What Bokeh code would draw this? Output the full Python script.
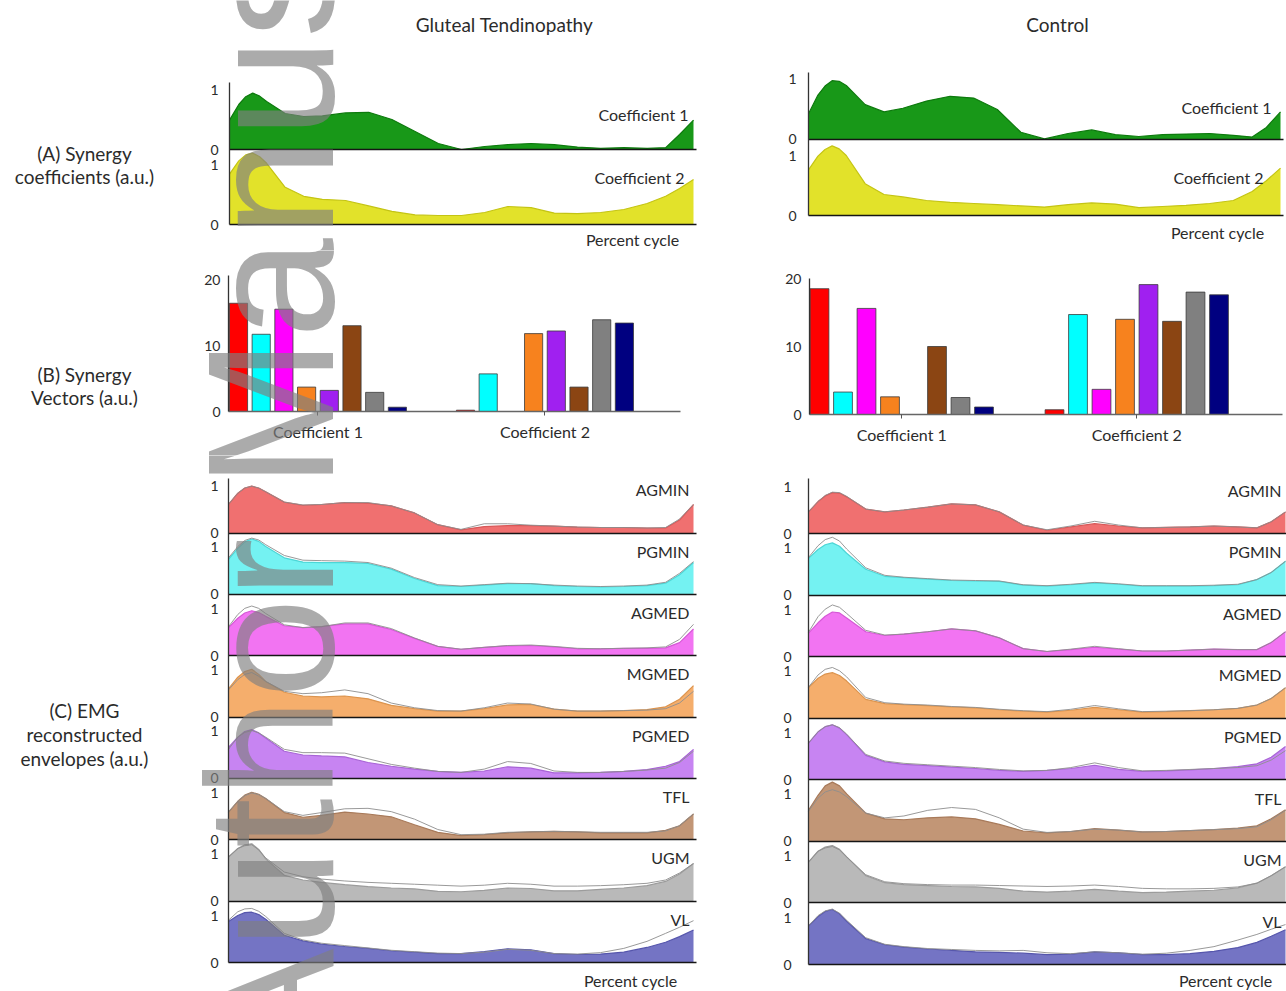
import math
from bokeh.plotting import figure
from bokeh.models import ColumnDataSource, Label, FixedTicker, Range1d, LinearAxis
from bokeh.layouts import row, column
from bokeh.transform import dodge
from bokeh.embed import file_html
from bokeh.resources import INLINE

# ---------------- data ----------------
PCT = [0, 2, 3.5, 5, 6.5, 8, 12, 16, 20, 25, 30, 35, 40, 45, 50, 55, 60, 65, 70, 75, 80, 85, 90, 94, 97, 100]

MUSCLES = ["AGMIN", "PGMIN", "AGMED", "MGMED", "PGMED", "TFL", "UGM", "VL"]
GROUPS = ["Coefficient 1", "Coefficient 2"]

# (A) synergy coefficients
GT_COEF1 = [0.49, 0.75, 0.88, 0.94, 0.89, 0.80, 0.60, 0.55, 0.56, 0.61, 0.62, 0.50, 0.30, 0.10, 0.00, 0.05, 0.08, 0.10, 0.08, 0.04, 0.02, 0.03, 0.02, 0.03, 0.25, 0.49]
GT_COEF2 = [0.84, 1.06, 1.16, 1.19, 1.13, 1.02, 0.62, 0.47, 0.42, 0.40, 0.31, 0.22, 0.16, 0.15, 0.15, 0.20, 0.30, 0.28, 0.19, 0.18, 0.20, 0.25, 0.35, 0.47, 0.60, 0.75]
CT_COEF1 = [0.43, 0.74, 0.89, 0.98, 0.97, 0.90, 0.58, 0.46, 0.52, 0.64, 0.72, 0.69, 0.50, 0.12, 0.01, 0.10, 0.16, 0.08, 0.05, 0.08, 0.09, 0.10, 0.07, 0.04, 0.20, 0.46]
CT_COEF2 = [0.76, 0.99, 1.10, 1.16, 1.11, 1.00, 0.53, 0.35, 0.31, 0.25, 0.22, 0.20, 0.18, 0.16, 0.14, 0.18, 0.21, 0.19, 0.13, 0.15, 0.17, 0.20, 0.25, 0.40, 0.58, 0.79]

# (B) synergy vectors
GT_W1 = [16.4, 11.7, 15.5, 3.7, 3.2, 13.0, 2.9, 0.65]
GT_W2 = [0.2, 5.7, 0.0, 11.8, 12.2, 3.7, 13.9, 13.4]
CT_W1 = [18.5, 3.3, 15.6, 2.6, 0.0, 10.0, 2.5, 1.1]
CT_W2 = [0.7, 14.7, 3.7, 14.0, 19.1, 13.7, 18.0, 17.6]

# (C) reconstructed envelopes (area) and measured envelopes (line)
GT_AGMIN = [0.61, 0.85, 0.96, 1.00, 0.96, 0.88, 0.66, 0.59, 0.61, 0.65, 0.64, 0.58, 0.43, 0.18, 0.07, 0.14, 0.16, 0.16, 0.15, 0.13, 0.12, 0.12, 0.11, 0.11, 0.28, 0.61]
GT_AGMIN_EMG = [0.61, 0.85, 0.96, 1.00, 0.96, 0.88, 0.66, 0.60, 0.61, 0.65, 0.65, 0.58, 0.43, 0.18, 0.08, 0.20, 0.20, 0.17, 0.15, 0.13, 0.12, 0.12, 0.11, 0.12, 0.30, 0.61]
GT_PGMIN = [0.75, 0.98, 1.12, 1.18, 1.13, 1.02, 0.78, 0.69, 0.68, 0.68, 0.66, 0.54, 0.34, 0.19, 0.17, 0.20, 0.23, 0.23, 0.19, 0.17, 0.16, 0.17, 0.19, 0.24, 0.42, 0.68]
GT_PGMIN_EMG = [0.78, 1.02, 1.15, 1.20, 1.16, 1.06, 0.83, 0.73, 0.72, 0.71, 0.68, 0.56, 0.36, 0.21, 0.18, 0.21, 0.24, 0.23, 0.20, 0.18, 0.17, 0.18, 0.20, 0.26, 0.45, 0.70]
GT_AGMED = [0.60, 0.80, 0.91, 0.96, 0.92, 0.84, 0.64, 0.60, 0.62, 0.68, 0.68, 0.56, 0.37, 0.20, 0.14, 0.18, 0.21, 0.22, 0.19, 0.15, 0.15, 0.16, 0.16, 0.17, 0.28, 0.57]
GT_AGMED_EMG = [0.62, 0.88, 1.01, 1.06, 1.01, 0.90, 0.66, 0.60, 0.62, 0.70, 0.70, 0.58, 0.38, 0.20, 0.14, 0.18, 0.22, 0.23, 0.20, 0.16, 0.15, 0.16, 0.17, 0.19, 0.35, 0.67]
GT_MGMED = [0.60, 0.85, 0.97, 1.02, 0.91, 0.76, 0.53, 0.45, 0.43, 0.45, 0.39, 0.25, 0.18, 0.13, 0.13, 0.18, 0.26, 0.27, 0.17, 0.13, 0.13, 0.14, 0.16, 0.22, 0.38, 0.67]
GT_MGMED_EMG = [0.58, 0.80, 0.91, 0.95, 0.87, 0.76, 0.55, 0.50, 0.52, 0.58, 0.50, 0.30, 0.20, 0.14, 0.13, 0.20, 0.30, 0.28, 0.17, 0.13, 0.13, 0.14, 0.15, 0.18, 0.30, 0.55]
GT_PGMED = [0.66, 0.88, 1.00, 1.04, 0.97, 0.86, 0.58, 0.50, 0.48, 0.46, 0.34, 0.26, 0.20, 0.15, 0.13, 0.16, 0.25, 0.22, 0.12, 0.12, 0.13, 0.15, 0.19, 0.26, 0.36, 0.62]
GT_PGMED_EMG = [0.62, 0.88, 0.98, 1.02, 0.97, 0.88, 0.62, 0.55, 0.55, 0.54, 0.42, 0.30, 0.22, 0.15, 0.13, 0.20, 0.36, 0.32, 0.16, 0.13, 0.13, 0.15, 0.18, 0.22, 0.34, 0.58]
GT_TFL = [0.59, 0.82, 0.95, 1.01, 0.97, 0.88, 0.58, 0.48, 0.52, 0.59, 0.55, 0.49, 0.32, 0.16, 0.09, 0.11, 0.15, 0.17, 0.18, 0.17, 0.15, 0.15, 0.15, 0.20, 0.30, 0.55]
GT_TFL_EMG = [0.59, 0.82, 0.94, 1.00, 0.96, 0.88, 0.60, 0.52, 0.58, 0.66, 0.67, 0.60, 0.44, 0.22, 0.11, 0.12, 0.16, 0.17, 0.18, 0.17, 0.16, 0.16, 0.16, 0.19, 0.30, 0.55]
GT_UGM = [0.94, 1.12, 1.20, 1.22, 1.10, 0.90, 0.55, 0.45, 0.40, 0.35, 0.31, 0.28, 0.26, 0.21, 0.20, 0.23, 0.28, 0.27, 0.22, 0.22, 0.25, 0.28, 0.33, 0.42, 0.58, 0.80]
GT_UGM_EMG = [0.94, 1.12, 1.18, 1.20, 1.09, 0.92, 0.62, 0.52, 0.47, 0.43, 0.40, 0.38, 0.36, 0.34, 0.32, 0.34, 0.38, 0.36, 0.32, 0.32, 0.33, 0.35, 0.38, 0.45, 0.60, 0.80]
GT_VL = [0.87, 1.00, 1.06, 1.07, 1.02, 0.92, 0.58, 0.46, 0.39, 0.34, 0.30, 0.25, 0.22, 0.19, 0.19, 0.23, 0.29, 0.27, 0.19, 0.17, 0.18, 0.22, 0.32, 0.43, 0.55, 0.69]
GT_VL_EMG = [0.90, 1.08, 1.14, 1.15, 1.09, 0.98, 0.62, 0.48, 0.41, 0.36, 0.31, 0.26, 0.23, 0.20, 0.19, 0.22, 0.28, 0.26, 0.19, 0.18, 0.21, 0.30, 0.45, 0.62, 0.75, 0.89]

CT_AGMIN = [0.46, 0.68, 0.80, 0.87, 0.86, 0.78, 0.52, 0.46, 0.50, 0.56, 0.63, 0.61, 0.46, 0.18, 0.07, 0.14, 0.21, 0.16, 0.12, 0.13, 0.14, 0.16, 0.14, 0.12, 0.25, 0.46]
CT_AGMIN_EMG = [0.46, 0.68, 0.81, 0.88, 0.87, 0.79, 0.52, 0.46, 0.50, 0.56, 0.63, 0.61, 0.46, 0.18, 0.08, 0.16, 0.26, 0.18, 0.12, 0.13, 0.14, 0.16, 0.14, 0.12, 0.25, 0.46]
CT_PGMIN = [0.78, 0.97, 1.07, 1.11, 1.04, 0.89, 0.55, 0.40, 0.37, 0.34, 0.31, 0.30, 0.29, 0.21, 0.19, 0.22, 0.26, 0.23, 0.19, 0.19, 0.19, 0.20, 0.22, 0.33, 0.48, 0.72]
CT_PGMIN_EMG = [0.80, 1.05, 1.18, 1.23, 1.15, 0.98, 0.58, 0.42, 0.38, 0.35, 0.32, 0.31, 0.30, 0.22, 0.20, 0.23, 0.27, 0.24, 0.20, 0.20, 0.20, 0.21, 0.23, 0.33, 0.48, 0.72]
CT_AGMED = [0.50, 0.72, 0.86, 0.95, 0.93, 0.82, 0.53, 0.45, 0.48, 0.53, 0.59, 0.55, 0.40, 0.17, 0.11, 0.15, 0.20, 0.16, 0.12, 0.12, 0.14, 0.16, 0.15, 0.15, 0.30, 0.53]
CT_AGMED_EMG = [0.52, 0.85, 1.01, 1.10, 1.05, 0.92, 0.56, 0.46, 0.48, 0.53, 0.59, 0.55, 0.40, 0.17, 0.11, 0.16, 0.22, 0.17, 0.12, 0.12, 0.14, 0.16, 0.15, 0.15, 0.30, 0.53]
CT_MGMED = [0.65, 0.85, 0.94, 0.97, 0.91, 0.79, 0.40, 0.31, 0.29, 0.27, 0.24, 0.22, 0.18, 0.15, 0.13, 0.17, 0.23, 0.18, 0.13, 0.14, 0.16, 0.18, 0.21, 0.28, 0.42, 0.65]
CT_MGMED_EMG = [0.66, 0.92, 1.04, 1.08, 1.01, 0.88, 0.44, 0.33, 0.30, 0.28, 0.25, 0.23, 0.19, 0.16, 0.14, 0.19, 0.27, 0.20, 0.14, 0.15, 0.16, 0.18, 0.21, 0.28, 0.42, 0.65]
CT_PGMED = [0.78, 1.02, 1.13, 1.17, 1.10, 0.96, 0.52, 0.38, 0.33, 0.30, 0.27, 0.24, 0.20, 0.18, 0.20, 0.24, 0.31, 0.22, 0.18, 0.19, 0.21, 0.24, 0.28, 0.34, 0.48, 0.71]
CT_PGMED_EMG = [0.78, 1.02, 1.13, 1.17, 1.11, 0.97, 0.54, 0.40, 0.35, 0.32, 0.29, 0.26, 0.22, 0.19, 0.20, 0.26, 0.36, 0.26, 0.19, 0.20, 0.22, 0.24, 0.26, 0.30, 0.42, 0.62]
CT_TFL = [0.66, 0.98, 1.18, 1.26, 1.18, 1.01, 0.60, 0.48, 0.46, 0.50, 0.52, 0.48, 0.36, 0.22, 0.18, 0.21, 0.27, 0.24, 0.20, 0.21, 0.23, 0.25, 0.28, 0.33, 0.48, 0.67]
CT_TFL_EMG = [0.64, 0.92, 1.05, 1.10, 1.05, 0.95, 0.60, 0.50, 0.54, 0.66, 0.72, 0.68, 0.50, 0.26, 0.19, 0.21, 0.26, 0.24, 0.20, 0.21, 0.23, 0.25, 0.27, 0.31, 0.46, 0.66]
CT_UGM = [0.87, 1.10, 1.19, 1.22, 1.14, 0.98, 0.58, 0.43, 0.39, 0.37, 0.35, 0.34, 0.31, 0.25, 0.23, 0.25, 0.29, 0.25, 0.22, 0.23, 0.25, 0.27, 0.32, 0.42, 0.58, 0.77]
CT_UGM_EMG = [0.87, 1.10, 1.17, 1.20, 1.13, 0.98, 0.60, 0.45, 0.41, 0.39, 0.38, 0.38, 0.37, 0.36, 0.35, 0.36, 0.38, 0.35, 0.31, 0.30, 0.30, 0.31, 0.34, 0.42, 0.58, 0.77]
CT_VL = [0.82, 1.02, 1.13, 1.17, 1.08, 0.92, 0.55, 0.42, 0.37, 0.33, 0.30, 0.27, 0.26, 0.24, 0.21, 0.22, 0.27, 0.25, 0.21, 0.21, 0.23, 0.28, 0.36, 0.47, 0.60, 0.74]
CT_VL_EMG = [0.82, 1.04, 1.14, 1.18, 1.09, 0.94, 0.57, 0.43, 0.38, 0.34, 0.32, 0.30, 0.29, 0.30, 0.25, 0.23, 0.27, 0.25, 0.22, 0.24, 0.30, 0.38, 0.52, 0.64, 0.75, 0.85]

GT_AREAS = [GT_AGMIN, GT_PGMIN, GT_AGMED, GT_MGMED, GT_PGMED, GT_TFL, GT_UGM, GT_VL]
GT_LINES = [GT_AGMIN_EMG, GT_PGMIN_EMG, GT_AGMED_EMG, GT_MGMED_EMG, GT_PGMED_EMG, GT_TFL_EMG, GT_UGM_EMG, GT_VL_EMG]
CT_AREAS = [CT_AGMIN, CT_PGMIN, CT_AGMED, CT_MGMED, CT_PGMED, CT_TFL, CT_UGM, CT_VL]
CT_LINES = [CT_AGMIN_EMG, CT_PGMIN_EMG, CT_AGMED_EMG, CT_MGMED_EMG, CT_PGMED_EMG, CT_TFL_EMG, CT_UGM_EMG, CT_VL_EMG]

# ---------------- styles ----------------
FONT = "Lato"
TXT = "#2b2b2b"
BAR_COLORS = ["#FF0000", "#00FFFF", "#FF00FF", "#F7821E", "#A020F0", "#8B4513", "#808080", "#000080"]
AREA_COLORS = ["#F07070", "#74F2F2", "#F274F2", "#F5AE6C", "#C784F2", "#C29676", "#B9B9B9", "#7474C4"]
EDGE_COLORS = ["#D85858", "#4CD6D6", "#D658D6", "#DC944E", "#A864D6", "#A87A5A", "#9C9C9C", "#5656AC"]
GREEN, GREEN_EDGE = "#189818", "#0E7A0E"
YELLOW, YELLOW_EDGE = "#E2E22A", "#C4C414"
EMG_LINE = "#8E8E8E"
SECTION_SIZE = "19px"
LABEL_SIZE = "16px"


class Geo:
    """maps page pixels <-> data for a figure whose frame fills its whole canvas"""
    def __init__(self, page, xmap, ymap):
        self.page = page
        self.X0, self.x0, self.X1, self.x1 = xmap
        self.Y0, self.y0, self.Y1, self.y1 = ymap

    def x(self, X):
        return self.x0 + (X - self.X0) * (self.x1 - self.x0) / (self.X1 - self.X0)

    def y(self, Y):
        return self.y0 + (self.Y0 - Y) * (self.y1 - self.y0) / (self.Y0 - self.Y1)


def make_fig(page, xmap, ymap, x_axis=False):
    L, T, R, B = page
    g = Geo(page, xmap, ymap)
    p = figure(width=R - L, height=B - T,
               x_range=Range1d(g.x(L), g.x(R)), y_range=Range1d(g.y(B), g.y(T)),
               output_backend="svg", toolbar_location=None,
               x_axis_location="below" if x_axis else None, y_axis_location="left",
               min_border_left=0, min_border_right=0, min_border_top=0, min_border_bottom=0)
    p.title.visible = False
    p.outline_line_color = None
    p.grid.visible = False
    p.background_fill_color = "white"
    p.border_fill_color = "white"
    return p, g


def text(p, g, X, Y, s, size=LABEL_SIZE, align="center"):
    p.add_layout(Label(x=g.x(X), y=g.y(Y), text=s, text_font=FONT, text_font_size=size,
                       text_color=TXT, text_align=align, text_baseline="middle"))


def style_yaxis(p, g, axis_X, top, ticks, labels, standoff, size="14px"):
    ax = p.yaxis[0]
    ax.fixed_location = g.x(axis_X)
    ax.bounds = (0, top)
    ax.ticker = FixedTicker(ticks=ticks)
    ax.major_label_overrides = {t: l for t, l in zip(ticks, labels)}
    ax.major_tick_out = 0
    ax.major_tick_in = 0
    ax.minor_tick_out = 0
    ax.minor_tick_in = 0
    ax.major_tick_line_color = None
    ax.minor_tick_line_color = None
    ax.axis_line_color = "#333333"
    ax.axis_line_width = 1.3
    ax.major_label_standoff = standoff
    ax.major_label_text_font = FONT
    ax.major_label_text_font_size = size
    ax.major_label_text_color = TXT


def baseline_axis(p, off, x_end=100.6):
    ax = LinearAxis(fixed_location=off, bounds=(0, x_end), ticker=FixedTicker(ticks=[]),
                    axis_line_color="#151515", axis_line_width=1.6,
                    major_tick_line_color=None, minor_tick_line_color=None,
                    major_label_text_font_size="0px")
    p.add_layout(ax, "below")


def add_curve(p, off, area, line, fill, edge):
    src = ColumnDataSource(dict(x=PCT, y=area, zero=[0] * len(PCT),
                                emg=line if line is not None else area))
    p.varea(x="x", y1=dodge("zero", off), y2=dodge("y", off), source=src, fill_color=fill)
    p.line(x="x", y=dodge("y", off), source=src, line_color=edge, line_width=1.2)
    if line is not None:
        p.line(x="x", y=dodge("emg", off), source=src, line_color=EMG_LINE, line_width=1.0, line_alpha=0.9)
    baseline_axis(p, off)


def add_watermark(p, g):
    p.add_layout(Label(x=g.x(270), y=g.y(1068), text="Author Manuscript", angle=math.pi / 2,
                       text_font="Liberation Sans", text_font_size="180px", text_color="#808080",
                       text_alpha=0.66, text_align="left", text_baseline="alphabetic"))


# ---------------- (A) coefficients ----------------
def panel_A(page, xmap, base_Y, axis_top_Y, off_top, c1, c2, standoff, labels):
    p, g = make_fig(page, xmap, (base_Y, 0.0, base_Y - 60, 1.0))
    add_curve(p, off_top, c1, None, GREEN, GREEN_EDGE)
    add_curve(p, 0.0, c2, None, YELLOW, YELLOW_EDGE)
    ticks = [0.0, 1.0, off_top, round(off_top + 1, 4)]
    style_yaxis(p, g, xmap[0], g.y(axis_top_Y), ticks, ["0", "1", "0", "1"], standoff)
    for (X, Y, s, al) in labels:
        text(p, g, X, Y, s, align=al)
    return p, g


A_L, gAL = panel_A((0, 0, 720, 250), (229, 0, 693, 100), 224, 82, 1.25,
                   GT_COEF1, GT_COEF2, 11,
                   [(688, 114, GROUPS[0], "right"), (684, 177, GROUPS[1], "right"),
                    (632, 239, "Percent cycle", "center")])
text(A_L, gAL, 504, 24, "Gluteal Tendinopathy", size=SECTION_SIZE)
text(A_L, gAL, 84, 153, "(A) Synergy", size=SECTION_SIZE)
text(A_L, gAL, 84, 176, "coefficients (a.u.)", size=SECTION_SIZE)

A_R, gAR = panel_A((720, 0, 1286, 250), (808, 0, 1280, 100), 215, 72, 1.267,
                   CT_COEF1, CT_COEF2, 12,
                   [(1271, 107, GROUPS[0], "right"), (1263, 177, GROUPS[1], "right"),
                    (1217, 232, "Percent cycle", "center")])
text(A_R, gAR, 1057, 24, "Control", size=SECTION_SIZE)


# ---------------- (B) vectors ----------------
def panel_B(page, xmap, ymap, axis_X, axis_top_Y, x_end_X, w1, w2):
    p, g = make_fig(page, xmap, ymap, x_axis=True)
    xs = list(range(len(MUSCLES))) + [10 + i for i in range(len(MUSCLES))]
    src = ColumnDataSource(dict(x=xs, top=list(w1) + list(w2), color=BAR_COLORS * 2))
    p.vbar(x="x", top="top", width=0.8, bottom=0, source=src, fill_color="color",
           line_color="#3a3a3a", line_width=0.8)
    style_yaxis(p, g, axis_X, g.y(axis_top_Y), [0, 10, 20], ["0", "10", "20"], 8)
    ax = p.xaxis[0]
    centers = [3.5, 13.5]
    ax.fixed_location = 0
    ax.bounds = (g.x(axis_X), g.x(x_end_X))
    ax.ticker = FixedTicker(ticks=centers)
    ax.major_label_overrides = {c: s for c, s in zip(centers, GROUPS)}
    ax.major_tick_out = 4
    ax.major_tick_in = 0
    ax.major_tick_line_color = "#555555"
    ax.minor_tick_line_color = None
    ax.axis_line_color = "#666666"
    ax.axis_line_width = 1.3
    ax.major_label_standoff = 6
    ax.major_label_text_font = FONT
    ax.major_label_text_font_size = LABEL_SIZE
    ax.major_label_text_color = TXT
    return p, g


B_L, gBL = panel_B((0, 250, 720, 455), (238, 0, 465, 10), (411, 0, 345, 10), 228, 275, 680, GT_W1, GT_W2)
text(B_L, gBL, 84, 374, "(B) Synergy", size=SECTION_SIZE)
text(B_L, gBL, 84, 397, "Vectors (a.u.)", size=SECTION_SIZE)

B_R, gBR = panel_B((720, 250, 1286, 455), (819, 0, 1054, 10), (414, 0, 346, 10), 809, 278, 1282, CT_W1, CT_W2)


# ---------------- (C) envelopes ----------------
def panel_C(page, xmap, base_Y, axis_top_Y, spacing, areas, lines, standoff, name_X):
    p, g = make_fig(page, xmap, (base_Y, 0.0, base_Y - 47, 1.0))
    n = len(MUSCLES)
    ticks, labs = [], []
    for i in range(n):
        off = round((n - 1 - i) * spacing, 4)
        add_curve(p, off, areas[i], lines[i], AREA_COLORS[i], EDGE_COLORS[i])
        ticks += [off, round(off + 1, 4)]
        labs += ["0", "1"]
        p.add_layout(Label(x=g.x(name_X), y=off + 0.92, text=MUSCLES[i], text_font=FONT,
                           text_font_size=LABEL_SIZE, text_color=TXT, text_align="right",
                           text_baseline="middle"))
    style_yaxis(p, g, xmap[0], g.y(axis_top_Y), ticks, labs, standoff)
    return p, g


C_L, gCL = panel_C((0, 455, 720, 991), (228, 0, 693, 100), 962, 478, 1.305, GT_AREAS, GT_LINES, 10, 689)
text(C_L, gCL, 630, 980, "Percent cycle")
text(C_L, gCL, 84, 710, "(C) EMG", size=SECTION_SIZE)
text(C_L, gCL, 84, 734, "reconstructed", size=SECTION_SIZE)
text(C_L, gCL, 84, 758, "envelopes (a.u.)", size=SECTION_SIZE)

C_R, gCR = panel_C((720, 455, 1286, 991), (808, 0, 1285, 100), 964, 478, 1.31, CT_AREAS, CT_LINES, 17, 1281)
text(C_R, gCR, 1225, 980, "Percent cycle")

for p_, g_ in [(A_L, gAL), (B_L, gBL), (C_L, gCL)]:
    add_watermark(p_, g_)

layout = row(column(A_L, B_L, C_L), column(A_R, B_R, C_R))

open("out.html", "w").write(file_html(layout, INLINE))
